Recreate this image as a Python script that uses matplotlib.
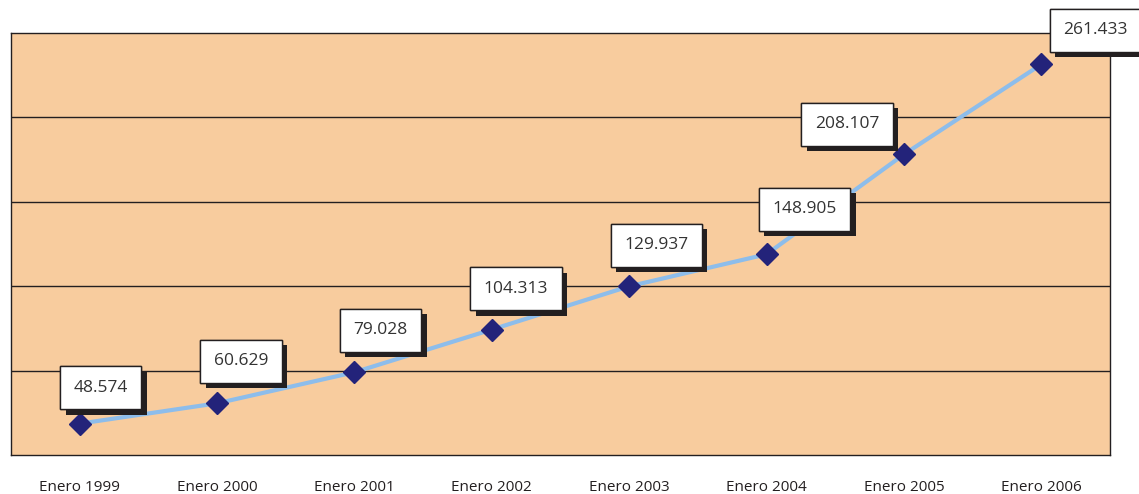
import matplotlib.pyplot as plt
import matplotlib.patheffects as pe

categories = ['Enero 1999', 'Enero 2000', 'Enero 2001', 'Enero 2002',
              'Enero 2003', 'Enero 2004', 'Enero 2005', 'Enero 2006']
values = [48.574, 60.629, 79.028, 104.313, 129.937, 148.905, 208.107, 261.433]
labels = ['48.574', '60.629', '79.028', '104.313', '129.937', '148.905', '208.107', '261.433']
# label box offsets from point, in pixels
label_offsets = [(21, 36), (24, 42), (26, 42), (24, 41), (27, 41), (38, 45), (-57, 30), (54, 34)]

plt.rcParams['font.family'] = ['Open Sans', 'DejaVu Sans']

fig = plt.figure(figsize=(11.39, 4.94), dpi=100)
ax = fig.add_axes([11 / 1139, 39 / 494, 1099 / 1139, 422 / 494])
ax.set_facecolor('#F8CC9E')

x = list(range(len(categories)))
ax.plot(x, values, color='#8DBDEB', lw=3, zorder=3)
ax.plot(x, values, ls='none', marker='D', ms=11, color='#23237A', zorder=4)

ax.set_xlim(-0.5, len(categories) - 0.5)
ax.set_ylim(30, 280)
ax.set_yticks([80, 130, 180, 230])
ax.yaxis.grid(True, color='#231f20', lw=1)
ax.set_yticklabels([])
ax.tick_params(axis='y', length=0)
ax.set_xticks(x)
ax.set_xticklabels(categories, fontsize=11, color='#231f20')
ax.tick_params(axis='x', length=0, pad=18)
for s in ax.spines.values():
    s.set_color('#231f20')
    s.set_linewidth(1)

for xi, v, lab, off in zip(x, values, labels, label_offsets):
    t = ax.annotate(lab, (xi, v), xytext=off, textcoords='offset pixels',
                    ha='center', va='center', fontsize=12.5, color='#333333',
                    bbox=dict(boxstyle='square,pad=0.78', fc='white', ec='#231f20', lw=1),
                    zorder=6, annotation_clip=False)
    t.get_bbox_patch().set_path_effects([
        pe.withSimplePatchShadow(offset=(4, -4), shadow_rgbFace='#231f20', alpha=1),
        pe.Normal()])

fig.savefig('out.png', dpi=100)
